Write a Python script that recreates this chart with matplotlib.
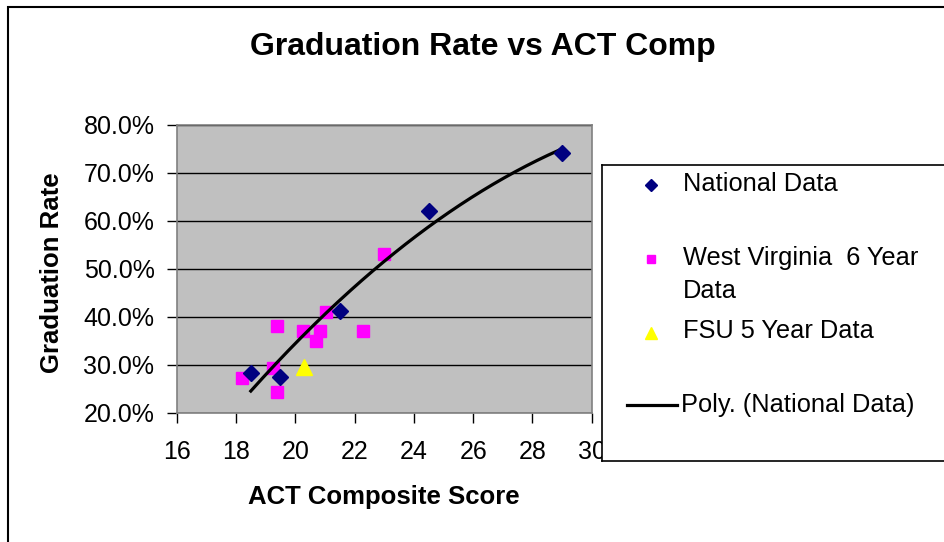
import numpy as np
import matplotlib
matplotlib.use("Agg")
import matplotlib.pyplot as plt
from matplotlib.patches import Rectangle
from matplotlib.lines import Line2D
from matplotlib.ticker import PercentFormatter

plt.rcParams["font.family"] = ["Liberation Sans", "DejaVu Sans"]

# National data
nat_x = [18.5, 19.5, 21.5, 24.5, 29.0]
nat_y = [28.2, 27.4, 41.2, 62.0, 74.2]

# West Virginia 6 year data
wv_x = [18.2, 19.25, 19.4, 19.4, 20.25, 20.7, 20.85, 21.05, 22.3, 23.0]
wv_y = [27.2, 29.3, 38.1, 24.3, 37.1, 35.0, 37.1, 40.9, 37.1, 53.1]

# FSU 5 year data
fsu_x = [20.3]
fsu_y = [29.5]

x_ticks = [16, 18, 20, 22, 24, 26, 28, 30]
y_ticks = [20, 30, 40, 50, 60, 70, 80]

W, H = 945, 542
fig = plt.figure(figsize=(W / 100, H / 100), dpi=100)
fig.patch.set_facecolor("white")

# outer chart border (cut off at right and bottom)
fig.add_artist(Rectangle((8 / W, -0.1), 1.2, 1 - 7 / H + 0.1,
                         transform=fig.transFigure, fill=False,
                         edgecolor="black", linewidth=1.5))

ax = fig.add_axes([176.7 / W, 1 - 412.7 / H, 415 / W, 287.7 / H])
ax.set_facecolor("#C0C0C0")

# polynomial trendline (order 2) through national data
coef = np.polyfit(nat_x, nat_y, 2)
tx = np.linspace(min(nat_x), max(nat_x), 200)
ax.plot(tx, np.polyval(coef, tx), color="black", linewidth=2.3, zorder=3)

ax.plot(nat_x, nat_y, linestyle="none", marker="D", markersize=8.5,
        color="#000080", zorder=4)
ax.plot(wv_x, wv_y, linestyle="none", marker="s", markersize=9,
        color="#FF00FF", zorder=2)
ax.plot(fsu_x, fsu_y, linestyle="none", marker="^", markersize=11,
        color="#FFFF00", zorder=2)

ax.set_xlim(16, 30)
ax.set_ylim(20, 80)
ax.set_xticks(x_ticks)
ax.set_yticks(y_ticks)
ax.yaxis.set_major_formatter(PercentFormatter(decimals=1))
ax.grid(axis="y", color="black", linewidth=1)
ax.set_axisbelow(True)
for s in ax.spines.values():
    s.set_color("#808080")
    s.set_linewidth(1.2)
ax.tick_params(direction="out", length=7, width=1, color="black",
               labelsize=18, pad=9)
ax.tick_params(axis="x", pad=13)

fig.text(483 / W, 1 - 47 / H, "Graduation Rate vs ACT Comp",
         fontsize=23, fontweight="bold", ha="center", va="center")
fig.text(384 / W, 1 - 497 / H, "ACT Composite Score",
         fontsize=18.5, fontweight="bold", ha="center", va="center")
fig.text(52 / W, 1 - 273 / H, "Graduation Rate", rotation=90,
         fontsize=18.5, fontweight="bold", ha="center", va="center")

# legend box
lg = fig.add_axes([602 / W, 1 - 461 / H, 400 / W, 296 / H])
lg.set_xlim(602, 1002)
lg.set_ylim(461, 165)
lg.set_xticks([])
lg.set_yticks([])
lg.set_facecolor("white")
for s in lg.spines.values():
    s.set_color("black")
    s.set_linewidth(1.2)

lg.plot([651], [185], marker="D", markersize=6, color="#000080")
lg.plot([651], [259], marker="s", markersize=6, color="#FF00FF")
lg.plot([651], [333], marker="^", markersize=8, color="#FFFF00")
lg.add_line(Line2D([627, 677], [405, 405], color="black", linewidth=2.3))

lbl = dict(fontsize=18.3, va="center", ha="left")
lg.text(683, 184, "National Data", **lbl)
lg.text(683, 258, "West Virginia  6 Year", **lbl)
lg.text(683, 291, "Data", **lbl)
lg.text(683, 331, "FSU 5 Year Data", **lbl)
lg.text(681, 405, "Poly. (National Data)", **lbl)

fig.savefig("out.png", dpi=100)
